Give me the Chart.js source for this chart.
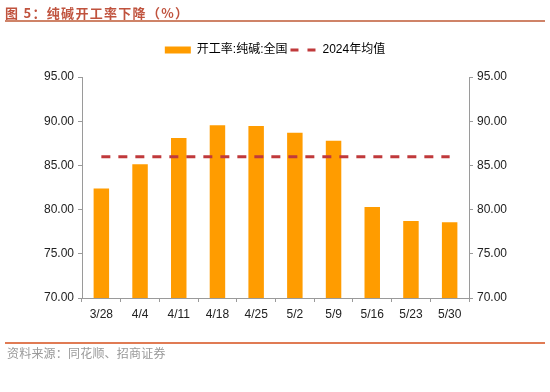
<!DOCTYPE html>
<html>
<head>
<meta charset="utf-8">
<script src="https://cdn.jsdelivr.net/npm/chart.js@4.4.1/dist/chart.umd.min.js"></script>
<style>
    body{
        margin: 0;
        width: 550px;
        height: 392px;
        background: #fff;
        position: relative;
        overflow: hidden;
        font-family: "Liberation Sans", "Noto Sans CJK SC", sans-serif;
    }
    #title{
        position: absolute;
        left: 5px;
        top: 3px;
        font-size: 13px;
        font-weight: bold;
        letter-spacing: 1.3px;
        color: #C0533E;
        font-family: "Noto Sans CJK SC", sans-serif;
        white-space: nowrap;
    }
    #title-line{
        position: absolute;
        left: 5px;
        top: 20px;
        width: 540px;
        height: 1.5px;
        background: #CF8368;
    }
    #chart-div{
        position: absolute;
        left: 0;
        top: 0;
        width: 550px;
        height: 392px;
    }
    #foot-line{
        position: absolute;
        left: 5px;
        top: 342px;
        width: 540px;
        height: 1.5px;
        background: #E07B54;
    }
    #source{
        position: absolute;
        left: 7px;
        top: 344px;
        font-size: 12px;
        color: #999;
        letter-spacing: 0.2px;
        font-family: "Noto Sans CJK SC", sans-serif;
        white-space: nowrap;
    }
</style>
</head>
<body>
<div id="chart-div">
    <canvas id="chart" width="550" height="392"></canvas>
</div>
<div id="title">图 5：纯碱开工率下降（%）</div>
<div id="title-line"></div>
<div id="foot-line"></div>
<div id="source">资料来源：同花顺、招商证券</div>
<script>
// 数据
const weeks = ['3/28', '4/4', '4/11', '4/18', '4/25', '5/2', '5/9', '5/16', '5/23', '5/30'];
const operatingRate = [82.39, 85.12, 88.11, 89.53, 89.46, 88.70, 87.80, 80.30, 78.70, 78.57];
const avg2024 = [85.98, 85.98, 85.98, 85.98, 85.98, 85.98, 85.98, 85.98, 85.98, 85.98];
const yTicks = [70, 75, 80, 85, 90, 95];

const barColor = '#FF9C00';
const lineColor = '#C0393B';
const axisColor = '#9a9a9a';
const tickFont = {family: '"Liberation Sans", "Noto Sans CJK SC", sans-serif', size: 12};

function yAxis(position, width) {
    return {
        position: position,
        min: 70,
        max: 95,
        afterBuildTicks: (scale) => { scale.ticks = yTicks.map(v => ({value: v})); },
        afterFit: (scale) => { scale.width = width; },
        ticks: {
            color: '#222',
            font: tickFont,
            padding: 4,
            callback: (v) => Number(v).toFixed(2)
        },
        grid: {drawOnChartArea: false, drawTicks: true, tickLength: 4, color: axisColor},
        border: {display: true, color: axisColor, width: 1}
    };
}

// 图例下方留白
const legendGap = {
    id: 'legendGap',
    beforeInit(chart) {
        const fit = chart.legend.fit;
        chart.legend.fit = function() {
            fit.call(this);
            this.height += 11;
        };
    }
};

const ctx = document.getElementById('chart').getContext('2d');
new Chart(ctx, {
    data: {
        labels: weeks,
        datasets: [
            {
                type: 'bar',
                label: '开工率:纯碱:全国',
                data: operatingRate,
                backgroundColor: barColor,
                borderWidth: 0,
                categoryPercentage: 1,
                barPercentage: 0.4,
                yAxisID: 'y',
                order: 2
            },
            {
                type: 'line',
                label: '2024年均值',
                data: avg2024,
                borderColor: lineColor,
                borderWidth: 3,
                borderDash: [9, 8],
                pointRadius: 0,
                fill: false,
                yAxisID: 'y',
                order: 1
            }
        ]
    },
    plugins: [legendGap],
    options: {
        responsive: false,
        animation: false,
        layout: {padding: {left: 0, right: 0, top: 41, bottom: 0}},
        scales: {
            x: {
                offset: true,
                afterFit: (scale) => { scale.height = 94; },
                ticks: {color: '#222', font: tickFont, padding: 5, maxRotation: 0},
                grid: {offset: true, drawOnChartArea: false, drawTicks: true, tickLength: 4, color: axisColor},
                border: {display: true, color: axisColor, width: 1}
            },
            y: yAxis('left', 82),
            y1: yAxis('right', 81)
        },
        plugins: {
            legend: {
                position: 'top',
                labels: {
                    usePointStyle: true,
                    pointStyleWidth: 26,
                    boxWidth: 26,
                    boxHeight: 7,
                    padding: 3,
                    color: '#222',
                    font: tickFont,
                    generateLabels: () => [
                        {text: '开工率:纯碱:全国', fillStyle: barColor, strokeStyle: barColor, lineWidth: 0, pointStyle: 'rect', datasetIndex: 0},
                        {text: '2024年均值', fillStyle: 'rgba(0,0,0,0)', strokeStyle: lineColor, lineWidth: 3, lineDash: [8, 9], pointStyle: 'line', datasetIndex: 1}
                    ]
                }
            },
            tooltip: {enabled: false}
        }
    }
});
</script>
</body>
</html>
